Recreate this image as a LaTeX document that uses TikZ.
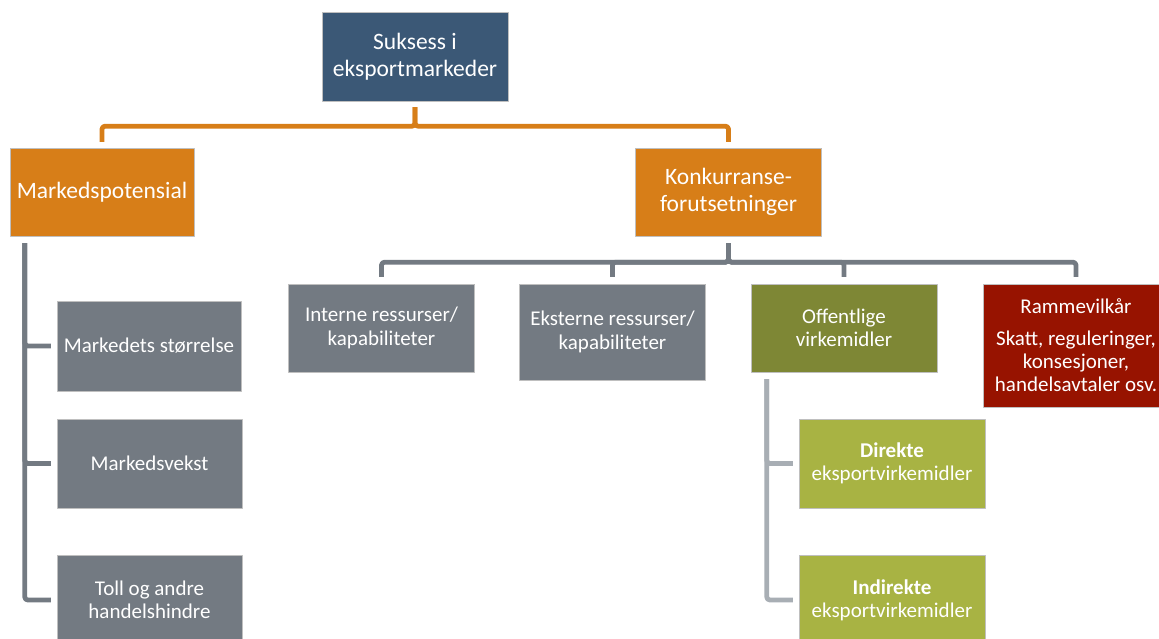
\documentclass[tikz,border=0pt]{standalone}
\usepackage{fontspec}
\setmainfont{Carlito}
\usepackage{tikz}
\usetikzlibrary{calc}
\definecolor{qqblue}{rgb}{0.231,0.345,0.463}
\definecolor{qqorange}{rgb}{0.843,0.494,0.094}
\definecolor{qqgray}{rgb}{0.451,0.478,0.510}
\definecolor{qqlgray}{rgb}{0.659,0.682,0.706}
\definecolor{qqolive}{rgb}{0.494,0.529,0.208}
\definecolor{qqgreen}{rgb}{0.659,0.702,0.263}
\definecolor{qqred}{rgb}{0.592,0.075,0.0}
\tikzset{
  box/.style={rectangle,draw=white!75!black,line width=0.4pt,inner sep=0pt,minimum width=186pt,minimum height=89pt,align=center,text=white,font=\fontsize{21}{23.3}\selectfont},
  bigbox/.style={box,font=\fontsize{23.5}{26.7}\selectfont},
  orangeline/.style={line width=4.8pt,color=qqorange,rounded corners=3pt,line cap=butt,shorten <=6pt,shorten >=6pt},
  grayline/.style={line width=4.8pt,color=qqgray,rounded corners=3pt,line cap=butt,shorten <=7pt,shorten >=7pt},
  lgrayline/.style={grayline,color=qqlgray}
}
\begin{document}
\begin{tikzpicture}[line cap=round,line join=round,x=1pt,y=-1pt]
\useasboundingbox (0,0) rectangle (1159,639);
\node[bigbox,fill=qqblue] (top) at (415,56.5) {Suksess i\\eksportmarkeder};
\node[bigbox,fill=qqorange,minimum width=184pt,minimum height=88pt] (mp) at (102,192) {Markedspotensial};
\node[bigbox,fill=qqorange,minimum height=88pt] (kf) at (728.5,192) {Konkurranse-\\forutsetninger};
\node[box,fill=qqgray,minimum height=88pt] (int) at (381.5,328) {Interne ressurser/\\kapabiliteter};
\node[box,fill=qqgray,minimum height=96pt] (ext) at (612.5,332) {Eksterne ressurser/\\kapabiliteter};
\node[box,fill=qqolive,minimum height=88pt] (off) at (844,328) {Offentlige\\virkemidler};
\node[box,fill=qqred,minimum height=123pt] (ram) at (1076,345.5) {Rammevilkår\\[8pt]Skatt, reguleringer,\\konsesjoner,\\handelsavtaler osv.};
\node[box,fill=qqgray,minimum width=184pt,minimum height=90pt] (ms) at (149,346) {Markedets størrelse};
\node[box,fill=qqgray,minimum width=185pt] (mv) at (149.5,463.5) {Markedsvekst};
\node[box,fill=qqgray,minimum width=185pt,minimum height=90pt] (toll) at (149.5,600) {Toll og andre\\handelshindre};
\node[box,fill=qqgreen] (dir) at (892,463.5) {\textbf{Direkte}\\eksportvirkemidler};
\node[box,fill=qqgreen,minimum height=90pt] (ind) at (892,600) {\textbf{Indirekte}\\eksportvirkemidler};
\draw[orangeline] (top.south) -- ++(0,25) -| (mp.north);
\draw[orangeline] (top.south) -- ++(0,25) -| (kf.north);
\foreach \n in {int,ext,off,ram}
  \draw[grayline] (kf.south) -- ++(0,26) -| (\n.north);
\foreach \n in {ms,mv,toll}
  \draw[grayline,shorten >=6pt] ($(mp.south west)+(15,0)$) |- (\n.west);
\foreach \n in {dir,ind}
  \draw[lgrayline,shorten >=6pt] ($(off.south west)+(16,0)$) |- (\n.west);
\end{tikzpicture}
\end{document}
